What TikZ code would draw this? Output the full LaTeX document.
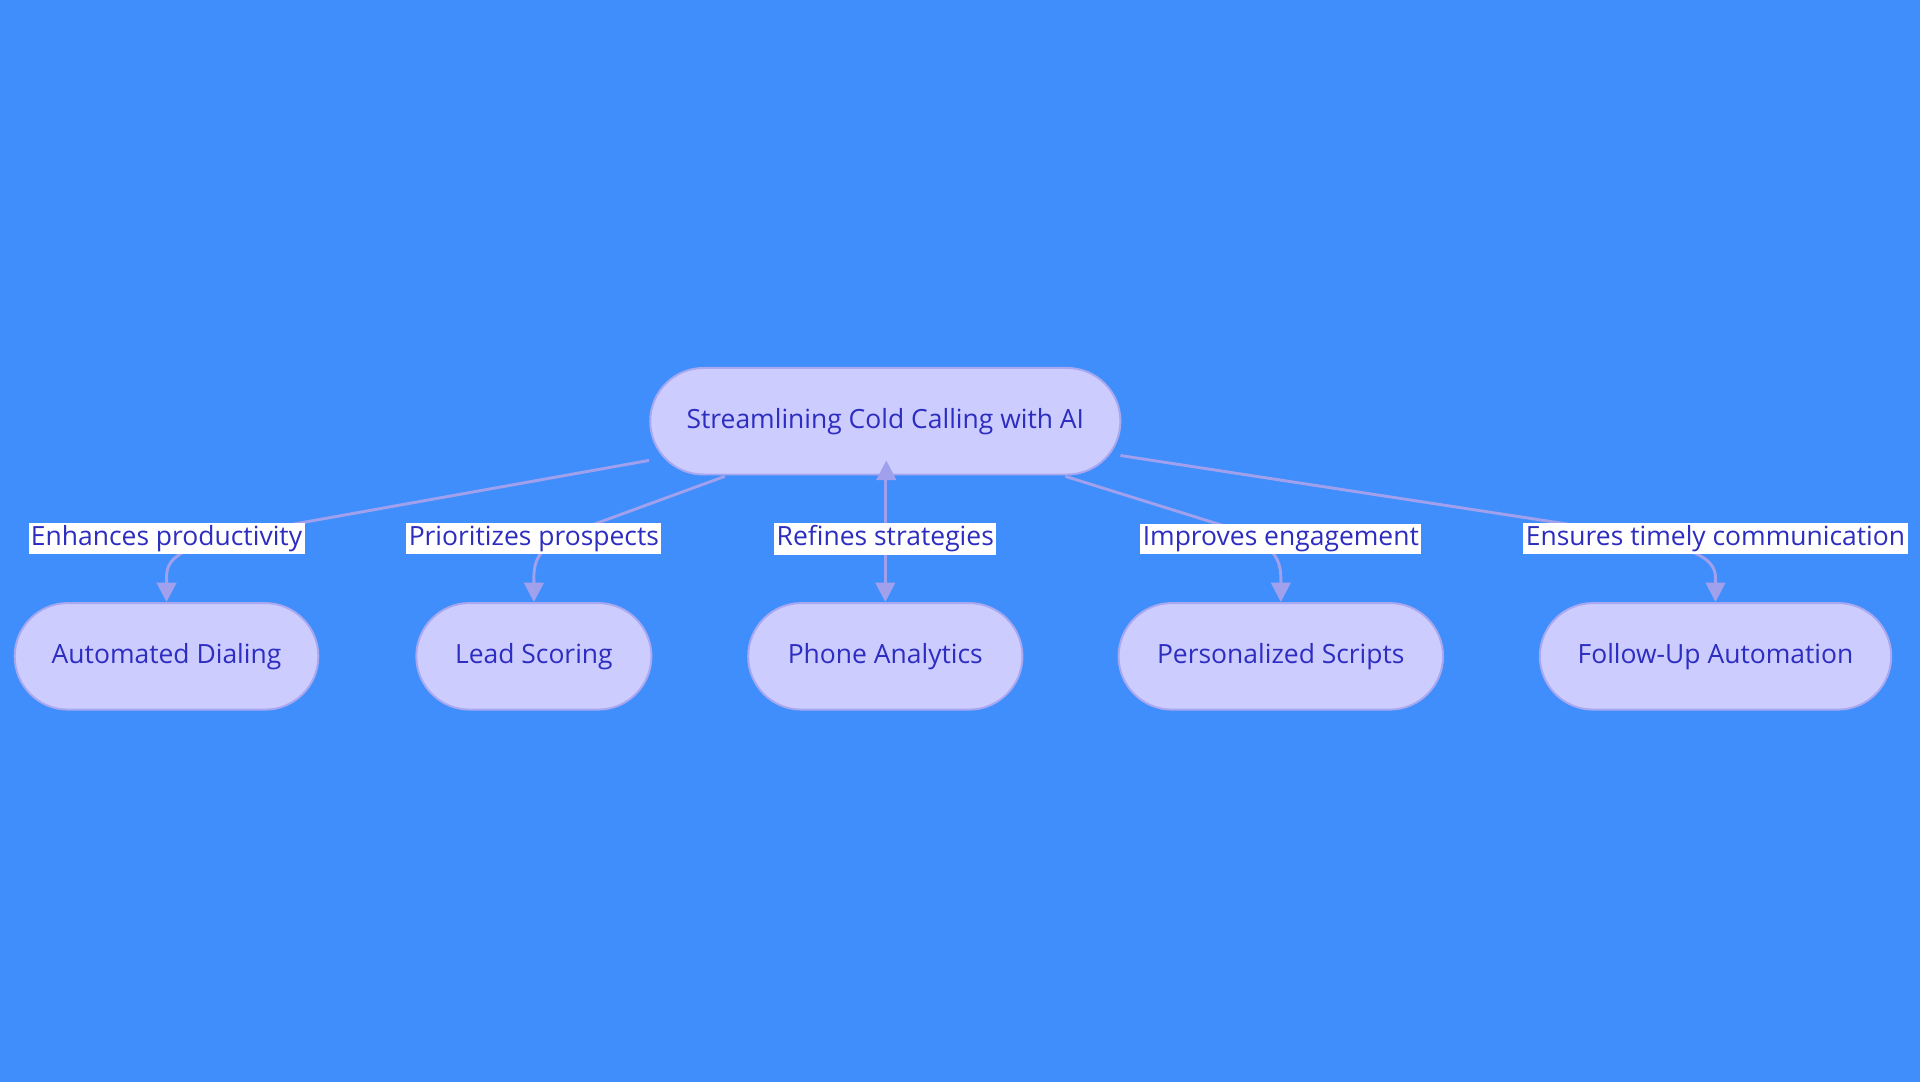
\documentclass[tikz,border=0pt]{standalone}
\usepackage{fontspec}
\setmainfont{Open Sans}
\usetikzlibrary{arrows.meta}
\definecolor{bg}{HTML}{3F8EFC}
\definecolor{nfill}{HTML}{CCCCFF}
\definecolor{nline}{HTML}{A8A8F0}
\definecolor{edge}{HTML}{A0A0EC}
\definecolor{txt}{HTML}{2D2DC0}
\begin{document}
\begin{tikzpicture}[x=0.5pt,y=-0.5pt,
  pill/.style={draw=nline,line width=0.8pt,fill=nfill,rounded corners=21.75pt,minimum height=43.5pt,inner sep=0pt,text=txt,font=\fontsize{10.8}{13}\selectfont},
  lbl/.style={fill=white,text=txt,inner sep=1pt,font=\fontsize{10.8}{13}\selectfont},
  conn/.style={draw=edge,line width=1.2pt,-{Triangle[length=8pt,width=8pt]}}]
\fill[bg] (0,0) rectangle (1568,884);
\useasboundingbox (0,0) rectangle (1568,884);
\node[pill,minimum width=192pt] (root) at (723,344) {Streamlining Cold Calling with AI};
\node[pill,minimum width=124pt] (c1) at (136,536) {Automated Dialing};
\node[pill,minimum width=96pt] (c2) at (436,536) {Lead Scoring};
\node[pill,minimum width=112pt] (c3) at (723,536) {Phone Analytics};
\node[pill,minimum width=132.5pt] (c4) at (1046,536) {Personalized Scripts};
\node[pill,minimum width=143.5pt] (c5) at (1401,536) {Follow-Up Automation};
\draw[conn] ([xshift=-96pt,yshift=-16pt]root.east) ++(0,0) coordinate (s1);
\draw[conn] (530,376) -- (240,428) .. controls (150,445) and (136,452) .. (136,472) -- (c1.north);
\draw[conn] (592,389) -- (480,430) .. controls (445,443) and (436,452) .. (436,472) -- (c2.north);
\draw[conn] (root.south) -- (c3.north);
\draw[conn] (870,389) -- (995,428) .. controls (1035,441) and (1046,452) .. (1046,472) -- (c4.north);
\draw[conn] (915,372) -- (1280,428) .. controls (1375,444) and (1401,452) .. (1401,472) -- (c5.north);
\node[lbl] (l1) at (136,440) {Enhances productivity};
\node[lbl] (l2) at (436,440) {Prioritizes prospects};
\node[lbl] (l3) at (723,440) {Refines strategies};
\node[lbl] (l4) at (1046,440) {Improves engagement};
\node[lbl] (l5) at (1401,440) {Ensures timely communication};
\end{tikzpicture}
\end{document}
